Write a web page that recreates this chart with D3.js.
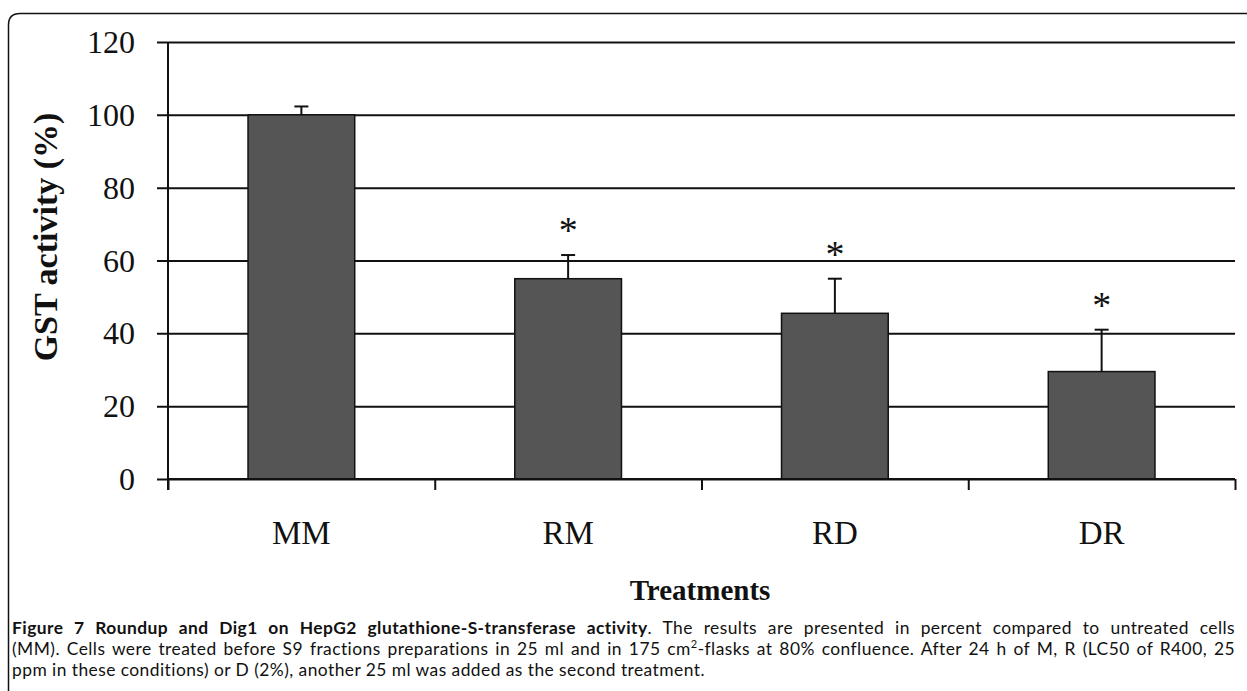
<!DOCTYPE html>
<html><head><meta charset="utf-8">
<script src="https://cdn.jsdelivr.net/npm/d3@7"></script>
<style>
html,body{margin:0;padding:0;background:#fff;}
svg{display:block;}
</style></head>
<body>
<svg id="c" width="1247" height="691"></svg>
<script>
const categories = ["MM", "RM", "RD", "DR"];
const values = [100, 55, 45.5, 29.5];
const errors = [2.3, 6.5, 9.5, 11.5];
const significant = [false, true, true, true];
const yTicks = [0, 20, 40, 60, 80, 100, 120];
const captionBold = "Figure 7 Roundup and Dig1 on HepG2 glutathione-S-transferase activity";
const captionLines = [
  [". The results are presented in percent compared to untreated cells"],
  ["(MM). Cells were treated before S9 fractions preparations in 25 ml and in 175 cm", "2", "-flasks at 80% confluence. After 24 h of M, R (LC50 of R400, 25"],
  ["ppm in these conditions) or D (2%), another 25 ml was added as the second treatment."]
];

(function () {
const svg = d3.select("#c");
const serif = "'Liberation Serif','DejaVu Serif',serif";
const sans = "Lato,'Open Sans',sans-serif";

// frame
svg.append("path")
  .attr("d", "M8.5,700 L8.5,25 Q8.5,13.5 20,13.5 L1260,13.5")
  .attr("fill", "none").attr("stroke", "#111").attr("stroke-width", 1.5);

const pL = 168, pR = 1235, pT = 42, pB = 479;
const x = d3.scaleBand().domain(categories).range([pL, pR]).paddingInner(0.6).paddingOuter(0.3);
const y = d3.scaleLinear().domain([0, 120]).range([pB, pT]);

// gridlines + y axis ticks
const yAxis = d3.axisLeft(y).tickValues(yTicks).tickSize(-(pR - pL)).tickSizeOuter(0).tickPadding(22);
const gy = svg.append("g").attr("transform", `translate(${pL},0)`).call(yAxis);
gy.select(".domain").remove();
gy.selectAll(".tick line").attr("x1", -11).attr("stroke", "#111").attr("stroke-width", 2);
gy.selectAll(".tick text").attr("x", -33).attr("dy", "0.33em").attr("font-family", serif).attr("font-size", 32).attr("fill", "#111");

// bars
svg.append("g").selectAll("rect").data(values).join("rect")
  .attr("x", (d, i) => x(categories[i]))
  .attr("y", d => y(d))
  .attr("width", x.bandwidth())
  .attr("height", d => y(0) - y(d))
  .attr("fill", "#555")
  .attr("stroke", "#111").attr("stroke-width", 1.5);

// error bars
const eg = svg.append("g").attr("stroke", "#111").attr("stroke-width", 2);
values.forEach((v, i) => {
  const cx = x(categories[i]) + x.bandwidth() / 2;
  eg.append("line").attr("x1", cx).attr("x2", cx).attr("y1", y(v)).attr("y2", y(v + errors[i]));
  eg.append("line").attr("x1", cx - 7).attr("x2", cx + 7).attr("y1", y(v + errors[i])).attr("y2", y(v + errors[i]));
});

// asterisks
svg.append("g").selectAll("text").data(values.map((v, i) => ({v, i})).filter(d => significant[d.i])).join("text")
  .attr("x", d => x(categories[d.i]) + x.bandwidth() / 2)
  .attr("y", d => y(d.v + errors[d.i]) - 12)
  .attr("text-anchor", "middle")
  .attr("font-family", serif).attr("font-size", 38).attr("fill", "#111")
  .text("*");

// y axis line
svg.append("line").attr("x1", pL).attr("x2", pL).attr("y1", pT).attr("y2", pB + 11)
  .attr("stroke", "#111").attr("stroke-width", 2);

// x axis
const xTick = d3.scaleLinear().domain([0, categories.length]).range([pL, pR]);
const gx = svg.append("g").attr("transform", `translate(0,${pB})`)
  .call(d3.axisBottom(xTick).tickValues(d3.range(categories.length + 1)).tickSize(11).tickFormat(""));
gx.select(".domain").attr("d", `M${pL},0H${pR}`).attr("stroke", "#111").attr("stroke-width", 2);
gx.selectAll(".tick line").attr("stroke", "#111").attr("stroke-width", 2);

// category labels
svg.append("g").selectAll("text").data(categories).join("text")
  .attr("x", d => x(d) + x.bandwidth() / 2)
  .attr("y", 544)
  .attr("text-anchor", "middle")
  .attr("font-family", serif).attr("font-size", 33).attr("fill", "#111")
  .text(d => d);

// x title
svg.append("text").attr("x", 700).attr("y", 600).attr("text-anchor", "middle")
  .attr("font-family", serif).attr("font-size", 29).attr("font-weight", "bold").attr("fill", "#111")
  .text("Treatments");

// y title
svg.append("text").attr("transform", "translate(57,237) rotate(-90)")
  .attr("text-anchor", "middle")
  .attr("font-family", serif).attr("font-size", 34).attr("font-weight", "bold").attr("fill", "#111")
  .text("GST activity (%)");

// caption (justified lines 1-2 via word-spacing)
const capX = 12, capW = 1223;
const cap = svg.append("g").attr("font-family", sans).attr("font-size", 17.4)
  .attr("letter-spacing", 0.45).attr("fill", "#111");
const nSp = s => (s.match(/ /g) || []).length;

// line 1: bold run + normal run as two texts placed side by side
const b1 = cap.append("text").attr("x", capX).attr("y", 634).attr("font-weight", "bold").text(captionBold);
const n1 = cap.append("text").attr("y", 634).text(captionLines[0][0]);
const lb = b1.node().getComputedTextLength(), ln = n1.node().getComputedTextLength();
const sb = nSp(captionBold), sn = nSp(captionLines[0][0]);
const ws1 = Math.max(0, (capW - lb - ln) / (sb + sn));
b1.attr("word-spacing", ws1);
n1.attr("word-spacing", ws1).attr("x", capX + lb + ws1 * sb);

// line 2
const l2 = cap.append("text").attr("x", capX).attr("y", 655);
l2.append("tspan").text(captionLines[1][0]);
l2.append("tspan").attr("dy", -7).attr("font-size", 11).text(captionLines[1][1]);
l2.append("tspan").attr("dy", 7).text(captionLines[1][2]);
const len2 = l2.node().getComputedTextLength();
const sp2 = nSp(captionLines[1].join(""));
if (len2 < capW) l2.attr("word-spacing", (capW - len2) / sp2);

// line 3
cap.append("text").attr("x", capX).attr("y", 676).text(captionLines[2][0]);
})();
</script>
</body></html>
